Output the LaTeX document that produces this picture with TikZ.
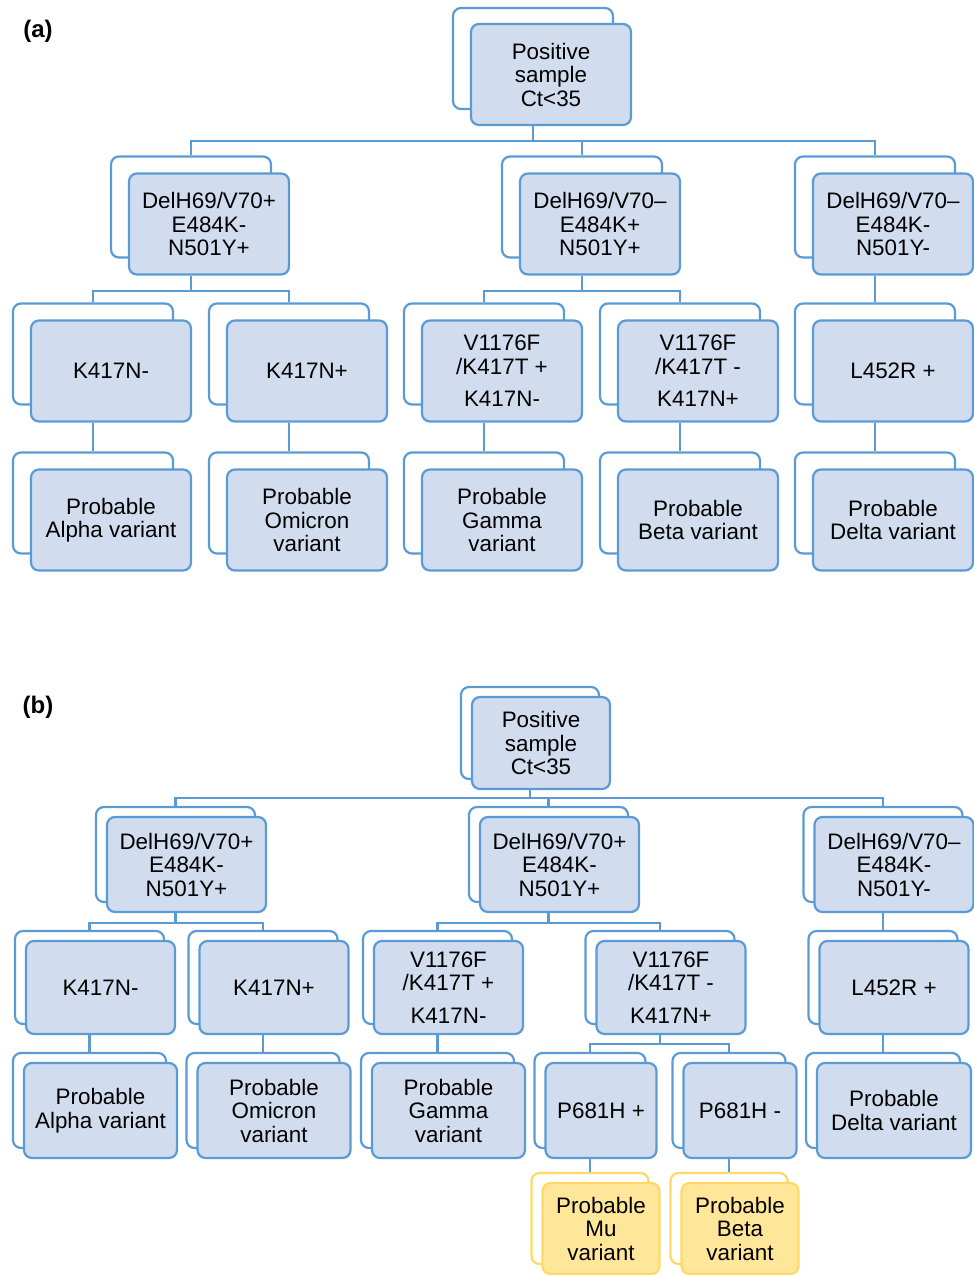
\documentclass[tikz,border=0pt]{standalone}
\usepackage{fontspec}
\setmainfont{Liberation Sans}

\definecolor{cardline}{RGB}{91,155,213}
\definecolor{cardfill}{RGB}{209,221,238}
\definecolor{goldline}{RGB}{255,217,102}
\definecolor{goldfill}{RGB}{255,230,153}

\tikzstyle{card} = [draw=cardline, fill=cardfill, line width=2.2pt, rounded corners=8pt, inner sep=0pt, align=center, minimum width=160pt, minimum height=101pt, font=\fontsize{22.4}{23.5}\selectfont]
\tikzstyle{backcard} = [card, fill=white]
\tikzstyle{gold} = [card, draw=goldline, fill=goldfill]
\tikzstyle{backgold} = [gold, fill=white]
\tikzstyle{link} = [draw=cardline, line width=2.2pt]
\tikzstyle{tag} = [font=\bfseries\fontsize{24}{24}\selectfont]

\begin{document}
\begin{tikzpicture}[x=1pt, y=-1pt]
	\useasboundingbox (0,0) rectangle (974,1275);

	% (a)
	\node[tag] (taga) at (38,31) {(a)};

	\node[backcard] (r0s) at (533,58.5) {};
	\node[card] (r0) at (551,74.5) {Positive\\sample\\Ct<35};

	\node[backcard] (a1s) at (191,207) {};
	\node[card] (a1) at (209,224) {DelH69/V70+\\E484K-\\N501Y+};
	\node[backcard] (a2s) at (582,207) {};
	\node[card] (a2) at (600,224) {DelH69/V70–\\E484K+\\N501Y+};
	\node[backcard] (a3s) at (875,207) {};
	\node[card] (a3) at (893,224) {DelH69/V70–\\E484K-\\N501Y-};

	\node[backcard] (b1s) at (93,354) {};
	\node[card] (b1) at (111,371) {K417N-};
	\node[backcard] (b2s) at (289,354) {};
	\node[card] (b2) at (307,371) {K417N+};
	\node[backcard] (b3s) at (484,354) {};
	\node[card] (b3) at (502,371) {V1176F\\/K417T +\\[9pt]K417N-};
	\node[backcard] (b4s) at (680,354) {};
	\node[card] (b4) at (698,371) {V1176F\\/K417T -\\[9pt]K417N+};
	\node[backcard] (b5s) at (875,354) {};
	\node[card] (b5) at (893,371) {L452R +};

	\node[backcard] (c1s) at (93,503) {};
	\node[card] (c1) at (111,520) {Probable\\Alpha variant};
	\node[backcard] (c2s) at (289,503) {};
	\node[card] (c2) at (307,520) {Probable\\Omicron\\variant};
	\node[backcard] (c3s) at (484,503) {};
	\node[card] (c3) at (502,520) {Probable\\Gamma\\variant};
	\node[backcard] (c4s) at (680,503) {};
	\node[card] (c4) at (698,520) {Probable\\Beta variant};
	\node[backcard] (c5s) at (875,503) {};
	\node[card] (c5) at (893,520) {Probable\\Delta variant};

	\draw[link] (r0s.south |- r0.south) -- ++(0,15) -| (a1s.north);
	\draw[link] (r0s.south |- r0.south) -- ++(0,15) -| (a2s.north);
	\draw[link] (r0s.south |- r0.south) -- ++(0,15) -| (a3s.north);

	\draw[link] (a1s.south |- a1.south) -- ++(0,15) -| (b1s.north);
	\draw[link] (a1s.south |- a1.south) -- ++(0,15) -| (b2s.north);
	\draw[link] (a2s.south |- a2.south) -- ++(0,15) -| (b3s.north);
	\draw[link] (a2s.south |- a2.south) -- ++(0,15) -| (b4s.north);
	\draw[link] (a3s.south |- a3.south) -- (b5s.north);

	\draw[link] (b1s.south |- b1.south) -- (c1s.north);
	\draw[link] (b2s.south |- b2.south) -- (c2s.north);
	\draw[link] (b3s.south |- b3.south) -- (c3s.north);
	\draw[link] (b4s.south |- b4.south) -- (c4s.north);
	\draw[link] (b5s.south |- b5.south) -- (c5s.north);

	% (b)
	\node[tag] (tagb) at (38,707) {(b)};

	\node[backcard, minimum width=138pt, minimum height=92pt] (r1s) at (530,733) {};
	\node[card, minimum width=138pt, minimum height=92pt] (r1) at (541,743) {Positive\\sample\\Ct<35};

	\node[backcard, minimum width=159pt, minimum height=95pt] (d1s) at (175.5,854.5) {};
	\node[card, minimum width=159pt, minimum height=95pt] (d1) at (186.5,864.5) {DelH69/V70+\\E484K-\\N501Y+};
	\node[backcard, minimum width=159pt, minimum height=95pt] (d2s) at (548.5,854.5) {};
	\node[card, minimum width=159pt, minimum height=95pt] (d2) at (559.5,864.5) {DelH69/V70+\\E484K-\\N501Y+};
	\node[backcard, minimum width=159pt, minimum height=95pt] (d3s) at (883,854.5) {};
	\node[card, minimum width=159pt, minimum height=95pt] (d3) at (894,864.5) {DelH69/V70–\\E484K-\\N501Y-};

	\node[backcard, minimum width=149pt, minimum height=93pt] (e1s) at (89.5,977.5) {};
	\node[card, minimum width=149pt, minimum height=93pt] (e1) at (100.5,987.5) {K417N-};
	\node[backcard, minimum width=149pt, minimum height=93pt] (e2s) at (263,977.5) {};
	\node[card, minimum width=149pt, minimum height=93pt] (e2) at (274,987.5) {K417N+};
	\node[backcard, minimum width=149pt, minimum height=93pt] (e3s) at (437.5,977.5) {};
	\node[card, minimum width=149pt, minimum height=93pt] (e3) at (448.5,987.5) {V1176F\\/K417T +\\[9pt]K417N-};
	\node[backcard, minimum width=149pt, minimum height=93pt] (e4s) at (660,977.5) {};
	\node[card, minimum width=149pt, minimum height=93pt] (e4) at (671,987.5) {V1176F\\/K417T -\\[9pt]K417N+};
	\node[backcard, minimum width=149pt, minimum height=93pt] (e5s) at (883,977.5) {};
	\node[card, minimum width=149pt, minimum height=93pt] (e5) at (894,987.5) {L452R +};

	\node[backcard, minimum width=153pt, minimum height=95pt] (f1s) at (89.5,1100.5) {};
	\node[card, minimum width=153pt, minimum height=95pt] (f1) at (100.5,1110.5) {Probable\\Alpha variant};
	\node[backcard, minimum width=153pt, minimum height=95pt] (f2s) at (263,1100.5) {};
	\node[card, minimum width=153pt, minimum height=95pt] (f2) at (274,1110.5) {Probable\\Omicron\\variant};
	\node[backcard, minimum width=153pt, minimum height=95pt] (f3s) at (437.5,1100.5) {};
	\node[card, minimum width=153pt, minimum height=95pt] (f3) at (448.5,1110.5) {Probable\\Gamma\\variant};
	\node[backcard, minimum width=111pt, minimum height=95pt] (f4s) at (590,1100.5) {};
	\node[card, minimum width=111pt, minimum height=95pt] (f4) at (601,1110.5) {P681H +};
	\node[backcard, minimum width=113pt, minimum height=95pt] (f5s) at (729,1100.5) {};
	\node[card, minimum width=113pt, minimum height=95pt] (f5) at (740,1110.5) {P681H -};
	\node[backcard, minimum width=154pt, minimum height=95pt] (f6s) at (883,1100.5) {};
	\node[card, minimum width=154pt, minimum height=95pt] (f6) at (894,1110.5) {Probable\\Delta variant};

	\node[backgold, minimum width=117pt, minimum height=91pt] (g1s) at (590,1218.5) {};
	\node[gold, minimum width=117pt, minimum height=91pt] (g1) at (601,1228.5) {Probable\\Mu\\variant};
	\node[backgold, minimum width=117pt, minimum height=91pt] (g2s) at (729,1218.5) {};
	\node[gold, minimum width=117pt, minimum height=91pt] (g2) at (740,1228.5) {Probable\\Beta\\variant};

	\draw[link] (r1s.south |- r1.south) -- ++(0,8) -| (d1s.north);
	\draw[link] (r1s.south |- r1.south) -- ++(0,8) -| (d2s.north);
	\draw[link] (r1s.south |- r1.south) -- ++(0,8) -| (d3s.north);

	\draw[link] (d1s.south |- d1.south) -- ++(0,10) -| (e1s.north);
	\draw[link] (d1s.south |- d1.south) -- ++(0,10) -| (e2s.north);
	\draw[link] (d2s.south |- d2.south) -- ++(0,10) -| (e3s.north);
	\draw[link] (d2s.south |- d2.south) -- ++(0,10) -| (e4s.north);
	\draw[link] (d3s.south |- d3.south) -- (e5s.north);

	\draw[link] (e1s.south |- e1.south) -- (f1s.north);
	\draw[link] (e2s.south |- e2.south) -- (f2s.north);
	\draw[link] (e3s.south |- e3.south) -- (f3s.north);
	\draw[link] (e4s.south |- e4.south) -- ++(0,9) -| (f4s.north);
	\draw[link] (e4s.south |- e4.south) -- ++(0,9) -| (f5s.north);
	\draw[link] (e5s.south |- e5.south) -- (f6s.north);

	\draw[link] (f4s.south |- f4.south) -- (g1s.north);
	\draw[link] (f5s.south |- f5.south) -- (g2s.north);
\end{tikzpicture}
\end{document}
